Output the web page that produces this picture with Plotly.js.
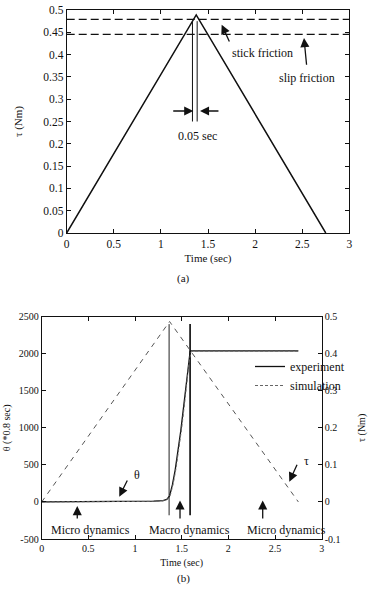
<!DOCTYPE html>
<html>
<head>
<meta charset="utf-8">
<script src="https://cdn.plot.ly/plotly-3.0.1.min.js"></script>
<style>html,body{margin:0;padding:0;background:#fff;}#chart{width:368px;height:590px;}</style>
</head>
<body>
<div id="chart"></div>
<script>
// ---------- (a) torque input ----------
const topTime = [0, 1.375, 2.75];
const topTau = [0, 0.489, 0];
const frictionTime = [0, 3];
const stickFriction = [0.479, 0.479];
const slipFriction = [0.4455, 0.4455];
const stickTimeLeft = [1.335, 1.335];
const stickTimeRight = [1.385, 1.385];
const stickMarkRange = [0.25, 0.475];
const topXTicks = [0, 0.5, 1, 1.5, 2, 2.5, 3];
const topXText = ['0', '0.5', '1', '1.5', '2', '2.5', '3'];
const topYTicks = [0, 0.05, 0.1, 0.15, 0.2, 0.25, 0.3, 0.35, 0.4, 0.45, 0.5];
const topYText = ['0', '0.05', '0.1', '0.15', '0.2', '0.25', '0.3', '0.35', '0.4', '0.45', '0.5'];

// ---------- (b) response ----------
const tauTime = [0, 1.37, 2.75];
const tauVals = [0, 0.487, 0];
const expTime = [0, 0.5, 1.0, 1.2, 1.3, 1.34, 1.37, 1.40, 1.43, 1.46, 1.49, 1.52, 1.55, 1.57, 1.59, 1.60, 2.75];
const expTheta = [0, 2, 5, 10, 18, 35, 80, 230, 430, 680, 960, 1280, 1620, 1870, 2030, 2040, 2040];
const simTime = [0, 0.5, 1.0, 1.2, 1.3, 1.35, 1.38, 1.41, 1.44, 1.47, 1.50, 1.53, 1.56, 1.58, 1.60, 1.61, 2.75];
const simTheta = [0, 1, 4, 8, 15, 40, 100, 250, 460, 720, 1000, 1320, 1660, 1900, 2020, 2035, 2035];
const macroStart = [1.365, 1.365];
const macroEnd = [1.59, 1.59];
const macroRange = [-180, 2400];
const botXTicks = [0, 0.5, 1, 1.5, 2, 2.5, 3];
const botXText = ['0', '0.5', '1', '1.5', '2', '2.5', '3'];
const thetaTicks = [-500, 0, 500, 1000, 1500, 2000, 2500];
const thetaText = ['-500', '0', '500', '1000', '1500', '2000', '2500'];
const tauTicks = [-0.1, 0, 0.1, 0.2, 0.3, 0.4, 0.5];
const tauText = ['-0.1', '0', '0.1', '0.2', '0.3', '0.4', '0.5'];

const FONT = '"Liberation Serif", "Times New Roman", serif';

const traces = [
  {x: topTime, y: topTau, xaxis: 'x', yaxis: 'y', mode: 'lines', line: {color: '#111', width: 1.5}, showlegend: false},
  {x: frictionTime, y: stickFriction, xaxis: 'x', yaxis: 'y', mode: 'lines', line: {color: '#111', width: 1.2, dash: '8px,4px'}, showlegend: false},
  {x: frictionTime, y: slipFriction, xaxis: 'x', yaxis: 'y', mode: 'lines', line: {color: '#111', width: 1.2, dash: '8px,4px'}, showlegend: false},
  {x: stickTimeLeft, y: stickMarkRange, xaxis: 'x', yaxis: 'y', mode: 'lines', line: {color: '#111', width: 1}, showlegend: false},
  {x: stickTimeRight, y: stickMarkRange, xaxis: 'x', yaxis: 'y', mode: 'lines', line: {color: '#111', width: 1}, showlegend: false},

  {x: tauTime, y: tauVals, xaxis: 'x2', yaxis: 'y3', mode: 'lines', line: {color: '#555', width: 1, dash: '5px,5px'}, showlegend: false},
  {x: macroStart, y: macroRange, xaxis: 'x2', yaxis: 'y2', mode: 'lines', line: {color: '#222', width: 1}, showlegend: false},
  {x: macroEnd, y: macroRange, xaxis: 'x2', yaxis: 'y2', mode: 'lines', line: {color: '#222', width: 1.8}, showlegend: false},
  {x: expTime, y: expTheta, xaxis: 'x2', yaxis: 'y2', mode: 'lines', name: 'experiment', line: {color: '#111', width: 1.3}},
  {x: simTime, y: simTheta, xaxis: 'x2', yaxis: 'y2', mode: 'lines', name: 'simulation', line: {color: '#666', width: 1, dash: '3px,2px'}}
];

const axBase = {
  showline: true, linecolor: '#111', linewidth: 1, ticks: 'inside', ticklen: 4, tickcolor: '#111',
  showgrid: false, zeroline: false, mirror: 'ticks', tickmode: 'array'
};

function arrow(xref, yref, x, y, ax, ay) {
  return {xref: xref, yref: yref, axref: xref, ayref: yref, x: x, y: y, ax: ax, ay: ay, text: '',
    showarrow: true, arrowhead: 2, arrowsize: 1.4, arrowwidth: 1.3, arrowcolor: '#111', standoff: 0, startstandoff: 0};
}
function label(xref, yref, x, y, text, size) {
  return {xref: xref, yref: yref, x: x, y: y, text: text, showarrow: false, font: {family: FONT, size: size, color: '#111'}};
}

const annotations = [
  label('x', 'y', 2.077, 0.404, 'stick friction', 12),
  arrow('x', 'y', 1.645, 0.467, 1.734, 0.426),
  label('x', 'y', 2.551, 0.3475, 'slip friction', 12),
  arrow('x', 'y', 2.519, 0.437, 2.548, 0.374),
  label('x', 'y', 1.389, 0.2175, '0.05 sec', 12),
  arrow('x', 'y', 1.344, 0.2735, 1.115, 0.2735),
  arrow('x', 'y', 1.415, 0.2735, 1.627, 0.2735),
  {xref: 'paper', yref: 'paper', x: 183/368, y: (590-278)/590, text: '(a)', showarrow: false, font: {family: FONT, size: 11, color: '#111'}},

  label('x2', 'y2', 0.521, -379, 'Micro dynamics', 12),
  arrow('x2', 'y2', 0.381, -55, 0.381, -244),
  label('x2', 'y2', 1.586, -379, 'Macro dynamics', 12),
  arrow('x2', 'y2', 1.482, 20, 1.482, -244),
  label('x2', 'y2', 2.625, -379, 'Micro dynamics', 12),
  arrow('x2', 'y2', 2.368, 20, 2.368, -244),
  label('x2', 'y2', 1.018, 364, 'θ', 12),
  arrow('x2', 'y2', 0.831, 71, 0.925, 310),
  label('x2', 'y2', 2.839, 557, 'τ', 12),
  arrow('x2', 'y2', 2.653, 273, 2.743, 521),
  {xref: 'paper', yref: 'paper', x: 183/368, y: (590-587)/590, text: '(b)', showarrow: false, font: {family: FONT, size: 11, color: '#111'}}
];

const layout = {
  width: 368, height: 590,
  margin: {l: 0, r: 0, t: 0, b: 0},
  paper_bgcolor: '#fff', plot_bgcolor: '#fff',
  font: {family: FONT, size: 11, color: '#111'},
  showlegend: true,
  legend: {x: 250/368, y: (590-352)/590, xanchor: 'left', yanchor: 'top', bgcolor: 'rgba(0,0,0,0)',
    font: {family: FONT, size: 12, color: '#111'}, tracegroupgap: 0},
  xaxis: Object.assign({}, axBase, {domain: [66.7/368, 349.3/368], anchor: 'y', range: [0, 3],
    tickvals: topXTicks, ticktext: topXText, tickfont: {family: FONT, size: 11.5},
    title: {text: 'Time (sec)', font: {family: FONT, size: 11}, standoff: 5}}),
  yaxis: Object.assign({}, axBase, {domain: [(590-233)/590, (590-10)/590], anchor: 'x', range: [0, 0.5],
    tickvals: topYTicks, ticktext: topYText, tickfont: {family: FONT, size: 11.5},
    title: {text: 'τ (Nm)', font: {family: FONT, size: 11}, standoff: 18}}),
  xaxis2: Object.assign({}, axBase, {domain: [41.7/368, 321.7/368], anchor: 'y2', range: [0, 3],
    tickvals: botXTicks, ticktext: botXText, tickfont: {family: FONT, size: 10},
    title: {text: 'Time (sec)', font: {family: FONT, size: 10}, standoff: 5}}),
  yaxis2: Object.assign({}, axBase, {domain: [(590-539)/590, (590-316.7)/590], anchor: 'x2', range: [-500, 2500],
    mirror: false, tickvals: thetaTicks, ticktext: thetaText, tickfont: {family: FONT, size: 10},
    title: {text: 'θ (*0.8 sec)', font: {family: FONT, size: 10}, standoff: 6}}),
  yaxis3: Object.assign({}, axBase, {overlaying: 'y2', side: 'right', anchor: 'x2', range: [-0.1, 0.5],
    mirror: false, tickvals: tauTicks, ticktext: tauText, tickfont: {family: FONT, size: 10},
    title: {text: 'τ (Nm)', font: {family: FONT, size: 10}, standoff: 20}}),
  annotations: annotations
};

Plotly.newPlot('chart', traces, layout, {staticPlot: true, displayModeBar: false});
</script>
</body>
</html>
